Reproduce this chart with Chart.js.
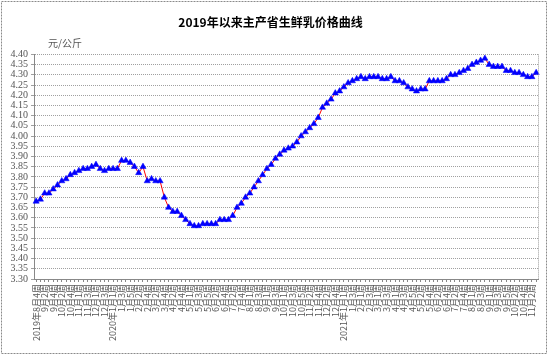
<!DOCTYPE html>
<html>
<head>
<meta charset="utf-8">
<script src="https://cdn.jsdelivr.net/npm/chart.js@4/dist/chart.umd.min.js"></script>
<style>
html,body{margin:0;padding:0;background:#fff;}
#wrap{width:549px;height:356px;position:relative;}
</style>
</head>
<body>
<div id="wrap"><canvas id="c" width="549" height="356"></canvas></div>
<script>
const chartTitle = "2019年以来主产省生鲜乳价格曲线";
const unitLabel = "元/公斤";
const weekLabels = [
"2019年8月4周","9月1周","9月2周","9月3周","9月4周",
"10月1周","10月2周","10月3周","10月4周","10月5周",
"11月1周","11月2周","11月3周","11月4周",
"12月1周","12月2周","12月3周","12月4周",
"2020年1月1周","1月2周","1月3周","1月4周","1月5周",
"2月1周","2月2周","2月3周","2月4周",
"3月1周","3月2周","3月3周","3月4周",
"4月1周","4月2周","4月3周","4月4周","4月5周",
"5月1周","5月2周","5月3周","5月4周","5月5周",
"6月1周","6月2周","6月3周","6月4周",
"7月1周","7月2周","7月3周","7月4周","7月5周",
"8月1周","8月2周","8月3周","8月4周",
"9月1周","9月2周","9月3周","9月4周",
"10月1周","10月2周","10月3周","10月4周","10月5周",
"11月1周","11月2周","11月3周","11月4周",
"12月1周","12月2周","12月3周","12月4周","12月5周",
"2021年1月1周","1月2周","1月3周","1月4周",
"2月1周","2月2周","2月3周","2月4周",
"3月1周","3月2周","3月3周","3月4周",
"4月1周","4月2周","4月3周","4月4周","4月5周",
"5月1周","5月2周","5月3周","5月4周",
"6月1周","6月2周","6月3周","6月4周",
"7月1周","7月2周","7月3周","7月4周","7月5周",
"8月1周","8月2周","8月3周","8月4周",
"9月1周","9月2周","9月3周","9月4周","9月5周",
"10月1周","10月2周","10月3周","10月4周",
"11月1周","11月2周","11月3周"
];
const milkPrice = [
3.68,3.69,3.72,3.72,3.74,3.76,3.78,3.79,3.81,3.82,
3.83,3.84,3.84,3.85,3.86,3.84,3.83,3.84,3.84,3.84,
3.88,3.88,3.87,3.85,3.82,3.85,3.78,3.79,3.78,3.78,
3.70,3.65,3.63,3.63,3.61,3.59,3.57,3.56,3.56,3.57,
3.57,3.57,3.57,3.59,3.59,3.59,3.61,3.65,3.67,3.70,
3.72,3.75,3.78,3.81,3.84,3.86,3.89,3.91,3.93,3.94,
3.95,3.97,4.00,4.02,4.04,4.06,4.09,4.14,4.16,4.18,
4.21,4.22,4.24,4.26,4.27,4.28,4.29,4.28,4.29,4.29,
4.29,4.28,4.28,4.29,4.27,4.27,4.26,4.24,4.23,4.22,
4.23,4.23,4.27,4.27,4.27,4.27,4.28,4.30,4.30,4.31,
4.32,4.33,4.35,4.36,4.37,4.38,4.35,4.34,4.34,4.34,
4.32,4.32,4.31,4.31,4.30,4.29,4.29,4.31
];
const yMin = 3.30, yMax = 4.40, yStep = 0.05;

const decor = {
  id: 'decor',
  beforeDraw(chart) {
    const ctx = chart.ctx;
    ctx.save();
    ctx.fillStyle = '#fff';
    ctx.fillRect(0, 0, chart.width, chart.height);
    ctx.strokeStyle = '#8a8a8a';
    ctx.lineWidth = 1;
    ctx.setLineDash([2, 1]);
    ctx.strokeRect(1.5, 1.5, chart.width - 4, chart.height - 4);
    ctx.restore();
  },
  afterDraw(chart) {
    const ctx = chart.ctx;
    const a = chart.chartArea;
    ctx.save();
    ctx.strokeStyle = '#999';
    ctx.lineWidth = 1;
    ctx.setLineDash([1, 1]);
    ctx.beginPath();
    ctx.moveTo(Math.round(a.right) + 0.5, a.top);
    ctx.lineTo(Math.round(a.right) + 0.5, a.bottom);
    ctx.stroke();
    ctx.setLineDash([]);
    ctx.fillStyle = '#555';
    ctx.font = '10px "Noto Sans CJK SC"';
    ctx.textBaseline = 'middle';
    ctx.fillText(unitLabel, 48, 43);
    ctx.restore();
  }
};

new Chart(document.getElementById('c'), {
  type: 'line',
  data: {
    labels: weekLabels,
    datasets: [{
      data: milkPrice,
      borderColor: '#ff0000',
      borderWidth: 1,
      pointStyle: 'triangle',
      pointRadius: 3.6,
      pointBackgroundColor: '#0000ff',
      pointBorderColor: '#0000ff',
      pointBorderWidth: 0.5,
      tension: 0
    }]
  },
  options: {
    responsive: false,
    animation: false,
    layout: { padding: { left: 0, right: 8, top: 0, bottom: 0 } },
    plugins: {
      legend: { display: false },
      tooltip: { enabled: false },
      title: {
        display: true,
        text: chartTitle,
        color: '#000',
        font: { family: '"Noto Sans CJK SC"', size: 12, weight: 'bold' },
        padding: { top: 15, bottom: 25 }
      }
    },
    scales: {
      x: {
        type: 'category',
        offset: true,
        afterFit(s) { s.height = 77; },
        grid: { drawOnChartArea: false, drawTicks: true, tickLength: 3, color: '#888' },
        border: { display: true, color: '#888', dash: [1, 1] },
        ticks: {
          autoSkip: false,
          maxRotation: 90,
          minRotation: 90,
          padding: 2,
          color: '#555',
          font: { family: '"Noto Sans CJK SC"', size: 9 },
          callback(v, i) { return i % 2 === 0 ? this.getLabelForValue(v) : ''; }
        }
      },
      y: {
        min: yMin,
        max: yMax,
        afterFit(s) { s.width = 34; },
        grid: { color: '#a0a0a0', tickLength: 3, drawTicks: true },
        border: { display: true, color: '#888', dash: [1, 1] },
        ticks: {
          autoSkip: false,
          stepSize: yStep,
          padding: 3,
          color: '#555',
          font: { family: '"Liberation Serif"', size: 10 },
          callback(v) { return Number(v).toFixed(2); }
        }
      }
    }
  },
  plugins: [decor]
});
</script>
</body>
</html>
